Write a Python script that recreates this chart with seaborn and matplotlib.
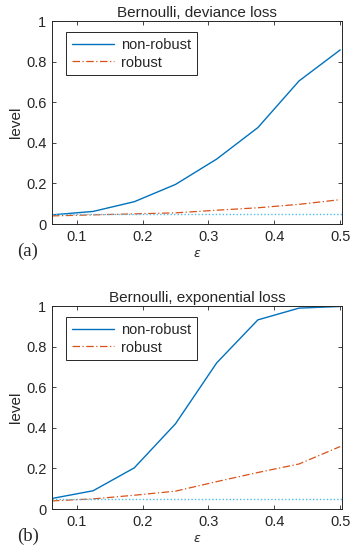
import numpy as np
import pandas as pd
import matplotlib
matplotlib.use('Agg')
import matplotlib.pyplot as plt
import seaborn as sns

# contamination levels
eps = [0.0625, 0.125, 0.1875, 0.25, 0.3125, 0.375, 0.4375, 0.5]

# deviance loss
dev_nonrobust = [0.045, 0.062, 0.11, 0.195, 0.32, 0.475, 0.705, 0.858]
dev_robust = [0.040, 0.045, 0.050, 0.055, 0.068, 0.080, 0.097, 0.120]

# exponential loss
exp_nonrobust = [0.052, 0.090, 0.203, 0.42, 0.72, 0.932, 0.99, 0.998]
exp_robust = [0.040, 0.050, 0.068, 0.088, 0.135, 0.180, 0.222, 0.308]

nominal = 0.05

titles = ['Bernoulli, deviance loss', 'Bernoulli, exponential loss']
panel_tags = ['(a)', '(b)']

sns.set_style('ticks')
plt.rcParams['font.family'] = ['Liberation Sans', 'DejaVu Sans']
plt.rcParams['xtick.direction'] = 'in'
plt.rcParams['ytick.direction'] = 'in'

blue = '#0072BD'
orange = '#D95319'
cyan = '#4DBEEE'

fig = plt.figure(figsize=(3.51, 5.5), dpi=100)
ax_top = fig.add_axes([0.148, 0.5927, 0.826, 0.369])
ax_bot = fig.add_axes([0.148, 0.0745, 0.826, 0.369])

panels = [(ax_top, dev_nonrobust, dev_robust), (ax_bot, exp_nonrobust, exp_robust)]
tag_y = [0.535, 0.017]

for i, (ax, nonrob, rob) in enumerate(panels):
    df = pd.DataFrame({'eps': eps, 'non-robust': nonrob, 'robust': rob})
    sns.lineplot(data=df, x='eps', y='non-robust', ax=ax, color=blue, lw=1.0, label='non-robust')
    sns.lineplot(data=df, x='eps', y='robust', ax=ax, color=orange, lw=0.9, label='robust',
                 linestyle=(0, (6, 2, 1, 2)))
    ax.axhline(nominal, color=cyan, lw=1.0, linestyle=(0, (1, 1.5)))
    ax.set_xlim(0.0625, 0.5025)
    ax.set_ylim(0, 1)
    ax.set_xticks([0.1, 0.2, 0.3, 0.4, 0.5])
    ax.set_xticklabels(['0.1', '0.2', '0.3', '0.4', '0.5'])
    ax.set_yticks([0, 0.2, 0.4, 0.6, 0.8, 1])
    ax.set_yticklabels(['0', '0.2', '0.4', '0.6', '0.8', '1'])
    ax.tick_params(axis='both', labelsize=10.5, length=3, width=0.6, color='#262626',
                   top=True, right=True, pad=4)
    for s in ax.spines.values():
        s.set_visible(True)
        s.set_linewidth(0.7)
        s.set_color('#262626')
    ax.set_title(titles[i], fontsize=11, pad=3)
    ax.set_ylabel('level', fontsize=11, labelpad=2)
    ax.set_xlabel(r'$\epsilon$', fontsize=9, labelpad=3)
    leg = ax.legend(loc='upper left', bbox_to_anchor=(0.048, 0.946), borderaxespad=0,
                    fontsize=10.5, handlelength=2.9, fancybox=False, edgecolor='#262626',
                    framealpha=1, borderpad=0.4, labelspacing=0.25, handletextpad=0.5)
    leg.get_frame().set_linewidth(0.7)
    fig.text(0.048, tag_y[i], panel_tags[i], fontsize=13.5, family='Liberation Serif')

fig.savefig('out.png', dpi=100)
